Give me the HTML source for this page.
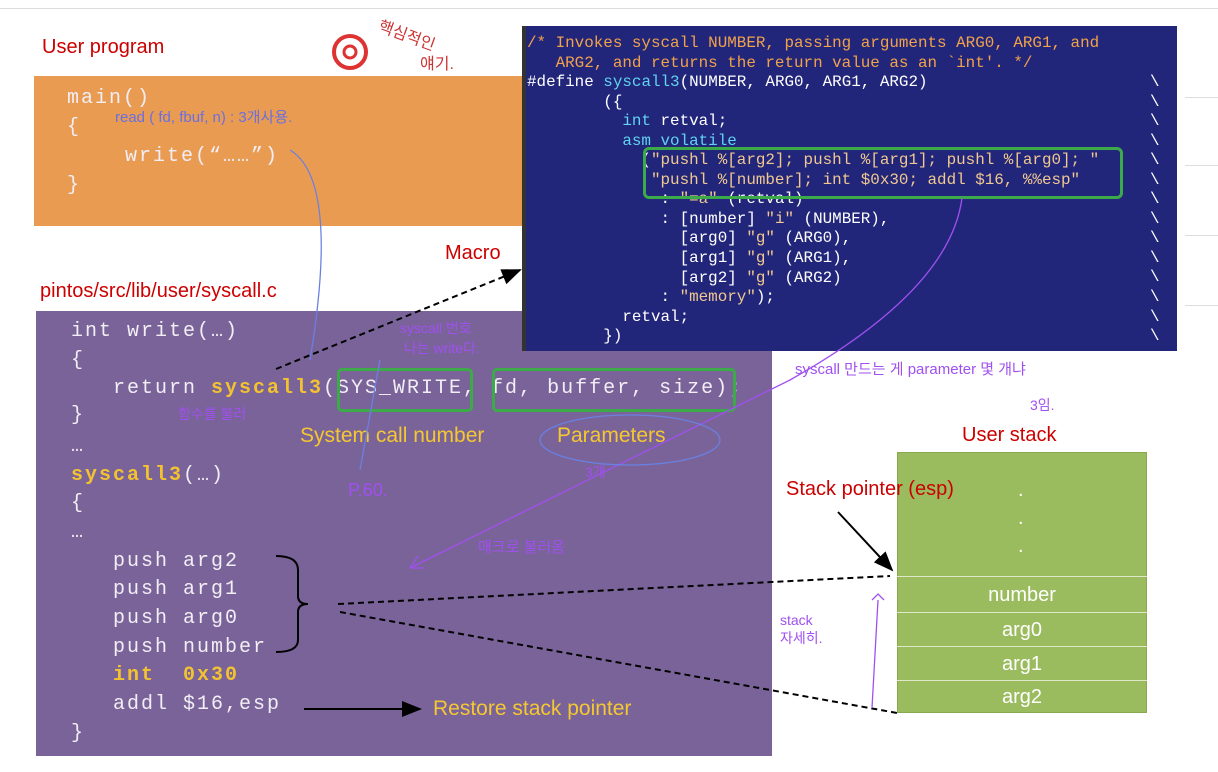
<!DOCTYPE html>
<html><head><meta charset="utf-8"><style>
body{margin:0;width:1218px;height:772px;background:#fff;position:relative;overflow:hidden;font-family:"Liberation Sans","Noto Sans CJK KR",sans-serif}
.a{position:absolute;white-space:pre}
.m{font-family:"Liberation Mono",monospace}
.p{font-size:20px;color:#f2eef5;letter-spacing:2px}
.y{color:#f2c230;font-weight:bold}
.b{font-size:15.9px;line-height:19.55px;color:#fff}
.o{color:#f1a24a}.c{color:#5fd3f0}.w{color:#f0c890}
.r{color:#c00;font-size:20px}
.g{color:#f5c730;font-size:21px}
.s{position:absolute;left:897px;width:250px;border-top:1px solid #dfe8c8;color:#fff;font-size:20px;text-align:center}
</style></head><body>
<div class="a" style="left:0;top:8px;width:1218px;height:1px;background:#ddd"></div>
<div class="a" style="left:1185px;top:97px;width:33px;height:1px;background:#ddd"></div>
<div class="a" style="left:1185px;top:165px;width:33px;height:1px;background:#ddd"></div>
<div class="a" style="left:1185px;top:235px;width:33px;height:1px;background:#ddd"></div>
<div class="a" style="left:1185px;top:305px;width:33px;height:1px;background:#ddd"></div>
<div class="a r" style="left:42px;top:36px">User program</div>
<div class="a" style="left:34px;top:76px;width:488px;height:150px;background:#e99b52"></div>
<div class="a m p" style="left:67px;top:84px;line-height:29px">main()
{</div>
<div class="a m p" style="left:125px;top:142px;line-height:29px">write(“……”)</div>
<div class="a m p" style="left:67px;top:171px;line-height:29px">}</div>
<div class="a r" style="left:40px;top:280px">pintos/src/lib/user/syscall.c</div>
<div class="a r" style="left:445px;top:242px">Macro</div>
<div class="a" style="left:36px;top:311px;width:736px;height:445px;background:#7a6399"></div>
<div class="a m p" style="left:71px;top:318px;line-height:28.7px">int write(…)
{


…
<span class="y">syscall3</span>(…)
{
…






}</div>
<div class="a m p" style="left:113px;top:318px;line-height:28.7px">

return <span class="y">syscall3</span>(SYS_WRITE, fd, buffer, size);





push arg2
push arg1
push arg0
push number
<span class="y">int  0x30</span>
addl $16,esp</div>
<div class="a m p" style="left:71px;top:404px">}</div>
<div class="a" style="left:337px;top:368px;width:130px;height:38px;border:3px solid #3daa4a;border-radius:5px"></div>
<div class="a" style="left:492px;top:368px;width:238px;height:38px;border:3px solid #3daa4a;border-radius:5px"></div>
<div class="a g" style="left:300px;top:424px">System call number</div>
<div class="a g" style="left:557px;top:424px">Parameters</div>
<div class="a g" style="left:433px;top:697px">Restore stack pointer</div>
<div class="a" style="left:522px;top:26px;width:651px;height:325px;background:#22267a;border-left:4px solid #333"></div>
<div class="a m b" style="left:527px;top:34px"><span class="o">/* Invokes syscall NUMBER, passing arguments ARG0, ARG1, and
   ARG2, and returns the return value as an `int'. */</span>
#define <span class="c">syscall3</span>(NUMBER, ARG0, ARG1, ARG2)
        ({
          <span class="c">int</span> retval;
          <span class="c">asm volatile</span>
            (<span class="w">"pushl %[arg2]; pushl %[arg1]; pushl %[arg0]; "</span>
             <span class="w">"pushl %[number]; int $0x30; addl $16, %%esp"</span>
              : <span class="w">"=a"</span> (retval)
              : [number] <span class="w">"i"</span> (NUMBER),
                [arg0] <span class="w">"g"</span> (ARG0),
                [arg1] <span class="w">"g"</span> (ARG1),
                [arg2] <span class="w">"g"</span> (ARG2)
              : <span class="w">"memory"</span>);
          retval;
        })</div>
<div class="a m b" style="left:1150px;top:73px">\
\
\
\
\
\
\
\
\
\
\
\
\
\</div>
<div class="a" style="left:643px;top:147px;width:474px;height:46px;border:3px solid #3daa4a;border-radius:6px"></div>
<div class="a r" style="left:962px;top:424px">User stack</div>
<div class="a" style="left:897px;top:452px;width:250px;height:261px;background:#9bbb5f;border:1px solid #8aa850;box-sizing:border-box"></div>
<div class="a r" style="left:786px;top:478px">Stack pointer (esp)</div>
<div class="a" style="left:1018px;top:476px;color:#fff;font-size:20px;line-height:28px">.<br>.<br>.</div>
<div class="s" style="top:576px;height:36px;line-height:36px">number</div>
<div class="s" style="top:612px;height:34px;line-height:34px">arg0</div>
<div class="s" style="top:646px;height:34px;line-height:34px">arg1</div>
<div class="s" style="top:680px;height:33px;line-height:33px">arg2</div>
<svg class="a" style="left:0;top:0" width="1218" height="772">
<defs><marker id="ar" markerWidth="10" markerHeight="8" refX="9" refY="4" orient="auto"><path d="M0,0L10,4L0,8z" fill="#000"/></marker></defs>
<g stroke="#000" stroke-width="2" fill="none">
<path d="M276 369L520 270" stroke-dasharray="6,4" marker-end="url(#ar)"/>
<path d="M338 604L890 576" stroke-dasharray="6,4"/>
<path d="M340 612L897 713" stroke-dasharray="6,4"/>
<path d="M304 709L420 709" marker-end="url(#ar)"/>
<path d="M838 512L892 570" marker-end="url(#ar)"/>
<path d="M276 556Q298 556 298 570L298 596Q298 604 308 604Q298 604 298 612L298 640Q298 652 276 652"/>
</g>
<g stroke="#a050f0" stroke-width="1.3" fill="none">
<path d="M962 198Q950 290 790 380L410 568"/><path d="M410 568l8-12M410 568l14 0"/>
<path d="M872 708L878 600"/><path d="M872 600l6-6 6 6"/>
</g>
<g stroke="#6a80e0" stroke-width="1.3" fill="none">
<path d="M290 150Q340 180 310 360"/>
<ellipse cx="630" cy="440" rx="90" ry="25"/>
<path d="M380 360L360 470"/>
</g>
<circle cx="350" cy="52" r="16" fill="none" stroke="#d33" stroke-width="4"/>
<circle cx="350" cy="52" r="6" fill="none" stroke="#d33" stroke-width="3"/>
</svg>
<div class="a" style="left:378px;top:22px;color:#c33;font-size:16px;transform:rotate(20deg)">핵심적인</div>
<div class="a" style="left:420px;top:50px;color:#c33;font-size:16px">얘기.</div>
<div class="a" style="left:115px;top:106px;color:#6a70e0;font-size:15px">read ( fd, fbuf, n) : 3개사용.</div>
<div class="a" style="left:400px;top:318px;color:#a050f0;font-size:14px">syscall 번호<br> 나는 write다.</div>
<div class="a" style="left:178px;top:404px;color:#a050f0;font-size:14px">함수를 불러</div>
<div class="a" style="left:348px;top:480px;color:#a050f0;font-size:18px">P.60.</div>
<div class="a" style="left:585px;top:462px;color:#a050f0;font-size:14px">3개</div>
<div class="a" style="left:478px;top:536px;color:#a050f0;font-size:15px">매크로 불러옴</div>
<div class="a" style="left:795px;top:358px;color:#a050f0;font-size:15px">syscall 만드는 게 parameter 몇 개냐</div>
<div class="a" style="left:1030px;top:395px;color:#a050f0;font-size:14px">3임.</div>
<div class="a" style="left:780px;top:612px;color:#a050f0;font-size:14px">stack<br>자세히.</div>
</body></html>
